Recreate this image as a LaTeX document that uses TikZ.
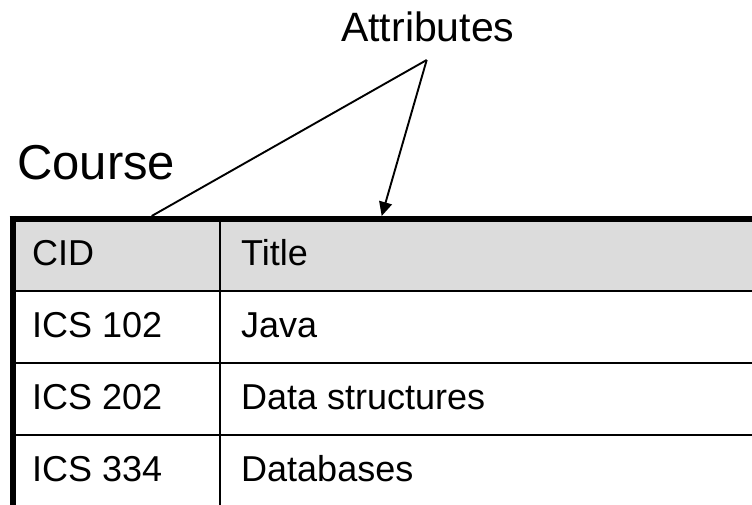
\documentclass[tikz,border=0pt]{standalone}
\usepackage{fontspec}
\setmainfont{Liberation Sans}
\usetikzlibrary{arrows.meta}
\definecolor{headgray}{RGB}{220,220,220}
\begin{document}
\begin{tikzpicture}[x=1pt,y=-1pt,
  celltext/.style={anchor=base west, inner sep=0pt, font=\fontsize{36}{40}\selectfont},
  titletext/.style={anchor=base west, inner sep=0pt},
  thinrule/.style={line width=2.8pt},
  thickrule/.style={line width=6pt},
  pointer/.style={line width=1.9pt}]
\useasboundingbox (0,0) rectangle (752,505);
\clip (0,0) rectangle (752,505);
% header fill
\fill[headgray] (12.5,219) rectangle (760,291);
% row rules
\draw[thinrule] (12.5,291) -- (760,291);
\draw[thinrule] (12.5,363) -- (760,363);
\draw[thinrule] (12.5,435) -- (760,435);
\draw[thinrule] (12.5,506.5) -- (760,506.5);
% column divider
\draw[thinrule] (220,219) -- (220,520);
% thick outer borders
\draw[thickrule] (12.5,216) -- (12.5,520);
\draw[thickrule] (9.5,219) -- (760,219);
% texts
\node[titletext, font=\fontsize{41}{45}\selectfont] (attr) at (341,41.7) {Attributes};
\node[titletext, font=\fontsize{49}{55}\selectfont] (course) at (17,180) {Course};
\node[celltext] (cid) at (32,265) {CID};
\node[celltext] (title) at (241,265) {Title};
\node[celltext] (c1) at (32,337) {ICS 102};
\node[celltext] (t1) at (241,337) {Java};
\node[celltext] (c2) at (32,409) {ICS 202};
\node[celltext] (t2) at (241,409) {Data structures};
\node[celltext] (c3) at (32,481) {ICS 334};
\node[celltext] (t3) at (241,481) {Databases};
% pointers
\coordinate (apex) at (426.7,60);
\coordinate (lend) at (151.7,216);
\coordinate (rend) at (381.7,216);
\draw[pointer] (apex) -- (lend);
\draw[pointer,-{Triangle[length=14pt,width=13pt]}] (apex) -- (rend);
\end{tikzpicture}
\end{document}
